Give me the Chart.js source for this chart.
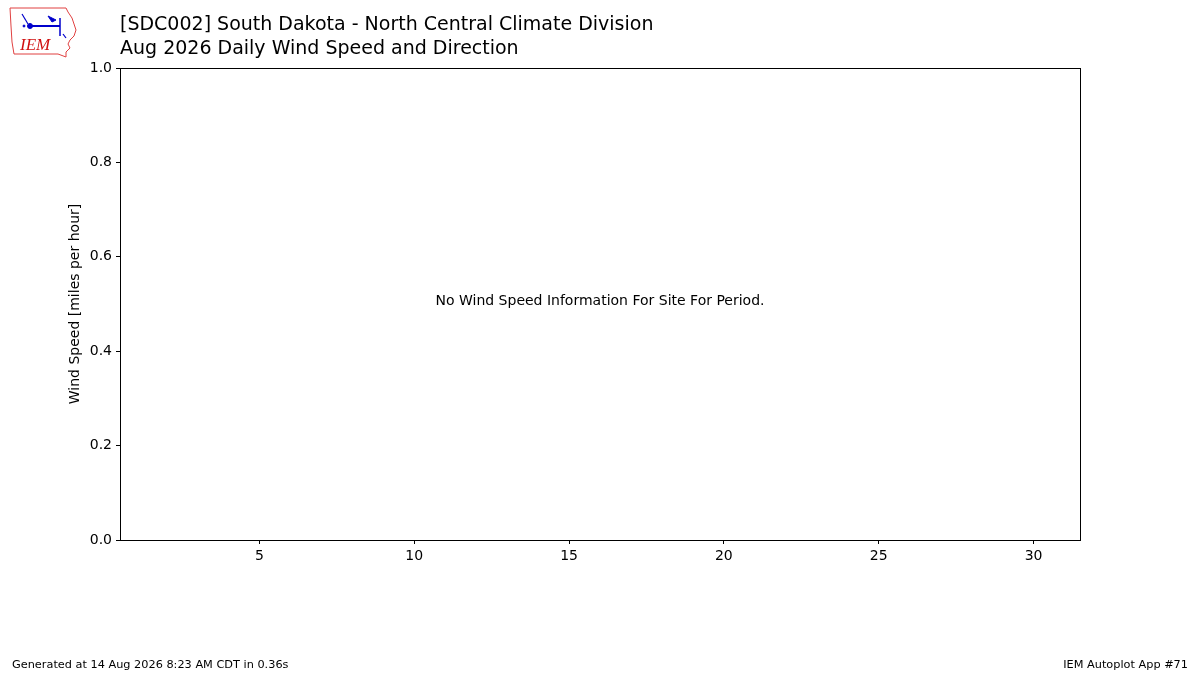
<!DOCTYPE html>
<html>
<head>
<meta charset="utf-8">
<script src="https://cdn.jsdelivr.net/npm/chart.js@4.4.1/dist/chart.umd.min.js"></script>
<style>
  html, body { margin: 0; padding: 0; background: #fff; }
  #wrap { position: relative; width: 1200px; height: 675px; font-family: "DejaVu Sans", sans-serif; color: #000; }
  #chart { position: absolute; left: 0; top: 0; }
  .title { position: absolute; left: 120px; font-size: 19px; line-height: 23px; white-space: nowrap; }
  .foot { position: absolute; top: 658px; font-size: 11.3px; white-space: nowrap; }
  #logo { position: absolute; left: 8px; top: 6px; }
</style>
</head>
<body>
<div id="wrap">
  <canvas id="chart" width="1200" height="675"></canvas>
  <svg id="logo" width="72" height="52" viewBox="0 0 72 52">
    <path d="M2 2 L58 2 L60 6 L64 12 L66 18 L68 24 L66 30 L62 34 L60 38 L62 42 L58 46 L58 51 L50 48 L6 48 L4 36 L3 20 Z"
          fill="none" stroke="#e04040" stroke-width="1"/>
    <g stroke="#0000cc" fill="#0000cc">
      <line x1="22" y1="20" x2="52" y2="20" stroke-width="2"/>
      <circle cx="22" cy="20" r="2.5"/>
      <line x1="52" y1="12" x2="52" y2="30" stroke-width="1.5"/>
      <path d="M40 10 L48 14 L44 16 Z"/>
      <line x1="14" y1="8" x2="20" y2="18" stroke-width="1.2"/>
      <circle cx="16" cy="20" r="1"/>
      <line x1="55" y1="28" x2="58" y2="32" stroke-width="1.2"/>
    </g>
    <text x="12" y="44" font-family="Liberation Serif, serif" font-style="italic" font-size="17" fill="#d01010">IEM</text>
  </svg>
  <div class="title" style="top: 12px;">[SDC002] South Dakota - North Central Climate Division</div>
  <div class="title" style="top: 36px;">Aug 2026 Daily Wind Speed and Direction</div>
  <div class="foot" style="left: 12px;">Generated at 14 Aug 2026 8:23 AM CDT in 0.36s</div>
  <div class="foot" style="right: 12px;">IEM Autoplot App #71</div>
</div>
<script>
// month days and (empty) observations
const days = [];
const windSpeed = [];
const xTicks = [5, 10, 15, 20, 25, 30];
const yTicks = [0.0, 0.2, 0.4, 0.6, 0.8, 1.0];
const noDataMsg = "No Wind Speed Information For Site For Period.";

const font = { family: "DejaVu Sans", size: 14 };

const frame = {
  id: "frame",
  afterDraw (chart) {
    const { ctx, chartArea: a } = chart;
    ctx.save();
    ctx.strokeStyle = "#000";
    ctx.lineWidth = 1;
    ctx.strokeRect(Math.round(a.left) + 0.5, Math.round(a.top) + 0.5,
      Math.round(a.right - a.left), Math.round(a.bottom - a.top));
    ctx.fillStyle = "#000";
    ctx.font = "14px 'DejaVu Sans'";
    ctx.textAlign = "center";
    ctx.textBaseline = "middle";
    ctx.fillText(noDataMsg, (a.left + a.right) / 2, (a.top + a.bottom) / 2 - 3);
    ctx.restore();
  }
};

new Chart(document.getElementById("chart"), {
  type: "scatter",
  data: {
    datasets: [{ data: days.map((d, i) => ({ x: d, y: windSpeed[i] })) }]
  },
  options: {
    responsive: false,
    animation: false,
    layout: { padding: { left: 62, right: 120, top: 68, bottom: 105 } },
    plugins: { legend: { display: false }, tooltip: { enabled: false } },
    scales: {
      x: {
        type: "linear",
        min: 0.5,
        max: 31.5,
        afterBuildTicks: (s) => { s.ticks = xTicks.map(v => ({ value: v })); },
        afterFit: (s) => { s.height = 30; },
        grid: { display: true, drawOnChartArea: false, color: "#000", tickLength: 4 },
        border: { display: true, color: "#000" },
        ticks: { color: "#000", font, padding: 4, maxRotation: 0 }
      },
      y: {
        type: "linear",
        min: 0,
        max: 1,
        afterBuildTicks: (s) => { s.ticks = yTicks.map(v => ({ value: v })); },
        afterFit: (s) => { s.width = 58; },
        grid: { display: true, drawOnChartArea: false, color: "#000", tickLength: 4 },
        border: { display: true, color: "#000" },
        ticks: { color: "#000", font, padding: 4, callback: (v) => v.toFixed(1) },
        title: { display: true, text: "Wind Speed [miles per hour]", color: "#000", font, padding: 5 }
      }
    }
  },
  plugins: [frame]
});
</script>
</body>
</html>
